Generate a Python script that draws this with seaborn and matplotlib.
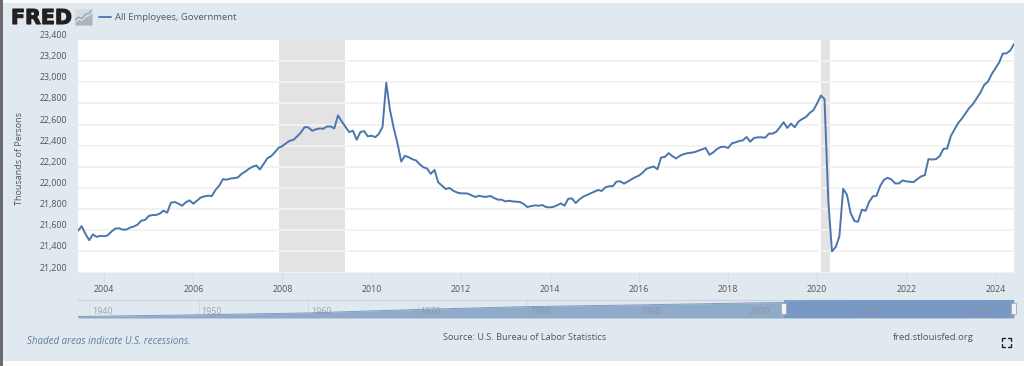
import matplotlib
matplotlib.use("Agg")
import matplotlib.pyplot as plt
import matplotlib.dates as mdates
import matplotlib.patheffects as pe
from matplotlib.patches import Rectangle
from matplotlib.lines import Line2D
import pandas as pd
import seaborn as sns

# monthly values, Jun 2003 - Jun 2024 (thousands of persons)
y2003 = [21595, 21638, 21565, 21506, 21560, 21537, 21547]
y2004 = [21543, 21553, 21587, 21615, 21619, 21606, 21606, 21625, 21635, 21653, 21691, 21697]
y2005 = [21735, 21744, 21744, 21757, 21785, 21766, 21860, 21867, 21851, 21832, 21864, 21883]
y2006 = [21851, 21880, 21908, 21920, 21927, 21923, 21980, 22021, 22084, 22078, 22089, 22093]
y2007 = [22099, 22134, 22153, 22181, 22200, 22213, 22175, 22228, 22282, 22301, 22339, 22380]
y2008 = [22396, 22424, 22446, 22456, 22488, 22525, 22576, 22573, 22541, 22554, 22563, 22560]
y2009 = [22582, 22582, 22563, 22687, 22630, 22579, 22529, 22541, 22456, 22529, 22538, 22488]
y2010 = [22494, 22481, 22510, 22579, 22996, 22737, 22570, 22423, 22250, 22304, 22291, 22272]
y2011 = [22260, 22222, 22196, 22184, 22133, 22171, 22054, 22022, 21990, 22000, 21974, 21958]
y2012 = [21949, 21949, 21946, 21930, 21914, 21927, 21917, 21917, 21924, 21905, 21889, 21889]
y2013 = [21873, 21879, 21873, 21870, 21867, 21848, 21819, 21829, 21835, 21832, 21838, 21819]
y2014 = [21816, 21822, 21835, 21854, 21832, 21898, 21901, 21857, 21892, 21917, 21933, 21949]
y2015 = [21965, 21981, 21971, 22006, 22016, 22016, 22060, 22063, 22041, 22060, 22082, 22101]
y2016 = [22117, 22145, 22180, 22193, 22203, 22177, 22288, 22294, 22329, 22301, 22279, 22304]
y2017 = [22320, 22329, 22333, 22339, 22352, 22365, 22378, 22314, 22336, 22368, 22387, 22390]
y2018 = [22378, 22422, 22431, 22444, 22450, 22482, 22438, 22473, 22479, 22479, 22476, 22514]
y2019 = [22514, 22533, 22574, 22622, 22568, 22609, 22574, 22628, 22653, 22672, 22710, 22736]
y2020 = [22802, 22875, 22840, 21880, 21400, 21441, 21542, 21992, 21935, 21762, 21687, 21680]
y2021 = [21794, 21784, 21866, 21920, 21926, 22020, 22077, 22096, 22080, 22043, 22043, 22071]
y2022 = [22062, 22058, 22055, 22084, 22109, 22121, 22273, 22269, 22273, 22301, 22370, 22373]
y2023 = [22493, 22556, 22613, 22657, 22707, 22758, 22795, 22849, 22906, 22975, 23007, 23076]
y2024 = [23133, 23189, 23271, 23274, 23300, 23362]

employees = (y2003 + y2004 + y2005 + y2006 + y2007 + y2008 + y2009 + y2010 + y2011 + y2012
             + y2013 + y2014 + y2015 + y2016 + y2017 + y2018 + y2019 + y2020 + y2021 + y2022
             + y2023 + y2024)

y_ticks = [21200, 21400, 21600, 21800, 22000, 22200, 22400, 22600, 22800, 23000, 23200, 23400]
x_years = [2004, 2006, 2008, 2010, 2012, 2014, 2016, 2018, 2020, 2022, 2024]
recessions = [("2007-12-01", "2009-06-01"), ("2020-02-01", "2020-04-15")]

# navigator strip, whole history
nav_years = [1939, 1950, 1960, 1970, 1980, 1990, 2000, 2010, 2020, 2024.42]
nav_values = [3900, 6000, 8400, 12700, 16300, 18400, 20800, 22500, 22800, 23360]
nav_ticks = [1940, 1950, 1960, 1970, 1980, 1990, 2000, 2010, 2020]

BG = "#e1e9f0"
BLUE = "#4a76ad"
W, H = 1024, 366

sns.set_theme(style="white")
plt.rcParams["font.family"] = ["Open Sans", "DejaVu Sans"]

fig = plt.figure(figsize=(W / 100, H / 100), dpi=100, facecolor=BG)


def box(x0, y0, x1, y1):
    # pixel box from the top left corner -> figure fractions
    return [x0 / W, 1 - y1 / H, (x1 - x0) / W, (y1 - y0) / H]


def fx(x):
    return x / W


def fy(y):
    return 1 - y / H


# page edges
for r in [box(0, 0, W, 3), box(0, 361, W, H)]:
    fig.patches.append(Rectangle(r[:2], r[2], r[3], transform=fig.transFigure, fc="#fbfbfb", ec="none"))
fig.patches.append(Rectangle((0, 0), 2.5 / W, 1, transform=fig.transFigure, fc="#6b6b6b", ec="none"))

# main chart
df = pd.DataFrame({"date": pd.date_range("2003-06-01", periods=len(employees), freq="MS"),
                   "employees": employees})
ax = fig.add_axes(box(78, 40, 1014, 272.5))
ax.set_facecolor("white")
for start, end in recessions:
    ax.axvspan(pd.Timestamp(start), pd.Timestamp(end), color="#e3e3e3", lw=0, zorder=1)
for v in y_ticks[:-1]:
    ax.axhline(v, color="#f2f2f2", lw=1.4, zorder=1.5)
sns.lineplot(data=df, x="date", y="employees", color=BLUE, lw=1.4, ax=ax, zorder=3)
ax.set_xlim(pd.Timestamp("2003-06-01"), pd.Timestamp("2024-06-01"))
ax.set_ylim(21200, 23400)
ax.set_xlabel("")
ax.set_ylabel("")
sns.despine(ax=ax, left=True, bottom=True, top=True, right=True)
ax.set_yticks(y_ticks)
ax.set_yticklabels([f"{v:,}" for v in y_ticks], fontsize=6.4, color="#555555", va="bottom")
ax.tick_params(axis="y", length=0, pad=7.7)
ax.set_xticks([pd.Timestamp(f"{y}-01-01") for y in x_years])
ax.set_xticklabels([str(y) for y in x_years], fontsize=6.4, color="#555555")
ax.tick_params(axis="x", length=7, width=0.7, color="#d3dbe3", pad=2, bottom=True)
ax.xaxis.set_major_formatter(mdates.DateFormatter("%Y"))

fig.text(fx(20), fy(159), "Thousands of Persons", rotation=90, fontsize=6.5, color="#555555",
         ha="center", va="center")

# navigator
nav = pd.DataFrame({"year": nav_years, "value": nav_values})
axn = fig.add_axes(box(78, 299.5, 1014, 318))
axn.set_facecolor(BG)
sns.lineplot(data=nav, x="year", y="value", color="#7d9cc4", lw=0.7, ax=axn, zorder=3)
axn.fill_between(nav_years, nav_values, 2020, color="#90aac9", lw=0, zorder=2)
axn.axvspan(2003.42, 2024.42, color="#7695c4", alpha=0.85, lw=0, zorder=3.5)
axn.set_xlim(1939, 2024.42)
axn.set_ylim(2020, 25200)
axn.set_xlabel("")
axn.set_ylabel("")
axn.set_xticks([])
axn.set_yticks([])
sns.despine(ax=axn, left=True, bottom=True, right=True, top=False)
axn.spines["top"].set_color("#cfd3d6")
axn.spines["top"].set_linewidth(0.9)
for t in nav_ticks:
    axn.axvline(t, color="#d3dbe3", lw=0.7, zorder=1)
    axn.annotate(str(t), (t, 0.33), xycoords=("data", "axes fraction"), xytext=(9.5, 0),
                 textcoords="offset points", fontsize=6.4, color="#8b8f94", alpha=0.75,
                 ha="center", va="center", zorder=4)

# range handles
for x in [783, 1013.5]:
    r = box(x - 2.5, 303, x + 2.5, 314)
    fig.patches.append(Rectangle(r[:2], r[2], r[3], transform=fig.transFigure, fc="#f4f4f4",
                                 ec="#a9a9a9", lw=0.6, zorder=5))

# header
logo = fig.text(fx(11), fy(24), "FRED", fontsize=14.8, fontweight="bold", family="DejaVu Sans",
                color="#231f20", ha="left", va="baseline")
logo.set_path_effects([pe.withStroke(linewidth=0.8, foreground="#231f20")])
fig.text(fx(115), fy(17), "All Employees, Government", fontsize=6.8, color="#4f5a66",
         ha="left", va="center")
fig.add_artist(Line2D([fx(99), fx(111)], [fy(17), fy(17)], color=BLUE, lw=1.3))

# little logo icon
axi = fig.add_axes(box(75, 9, 92, 25))
axi.set_facecolor("#d5dade")
axi.fill_between([0, 1, 2, 3, 4, 5], [1, 2, 1.6, 3, 3.4, 4.6], 0, color="#b0b3b6", lw=0)
sns.lineplot(x=[0, 1, 2, 3, 4, 5], y=[1.8, 3, 2.4, 4, 4.3, 5.6], color="#7d9cc0", lw=0.8, ax=axi)
axi.set_xlim(0, 5)
axi.set_ylim(0, 6)
axi.set_xticks([])
axi.set_yticks([])
axi.set_xlabel("")
axi.set_ylabel("")
sns.despine(ax=axi, left=True, bottom=True)

# footer
fig.text(fx(27), fy(341), "Shaded areas indicate U.S. recessions.", fontsize=7.0, style="italic",
         color="#5f7ba0", ha="left", va="center")
fig.text(fx(524.5), fy(337), "Source: U.S. Bureau of Labor Statistics", fontsize=6.7,
         color="#555555", ha="center", va="center")
fig.text(fx(893), fy(337), "fred.stlouisfed.org", fontsize=6.8, color="#555555", ha="left", va="center")

# fullscreen icon corners
x0, x1, y0, y1 = 1002, 1011, 338, 347
for cx, cy, dx, dy in [(x0, y0, 3, 3), (x1, y0, -3, 3), (x0, y1, 3, -3), (x1, y1, -3, -3)]:
    fig.add_artist(Line2D([fx(cx + dx), fx(cx), fx(cx)], [fy(cy), fy(cy), fy(cy + dy)],
                          color="#222222", lw=1.0))

fig.savefig("out.png", dpi=100, facecolor=BG)
